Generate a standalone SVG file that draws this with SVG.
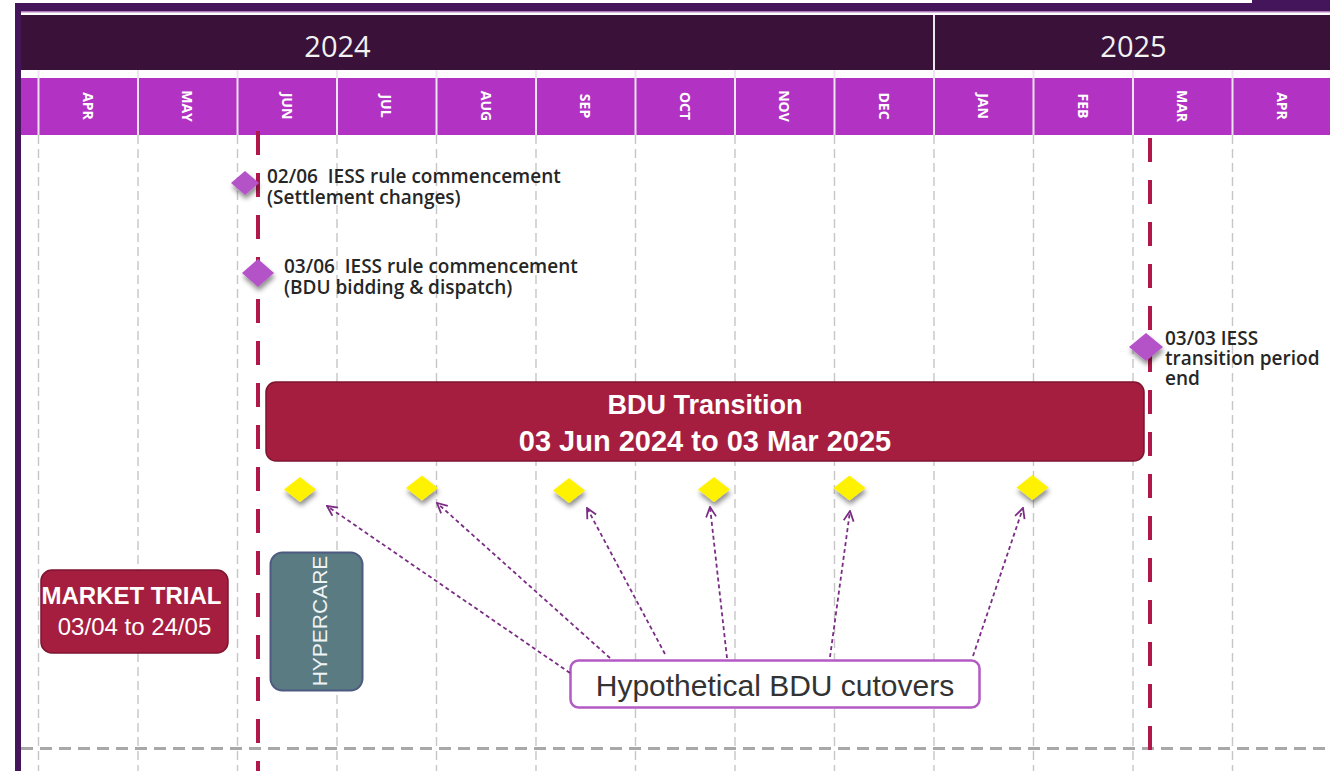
<svg xmlns="http://www.w3.org/2000/svg" width="1330" height="771" viewBox="0 0 1330 771">
  <defs>
    <style>
      .month { font-family: "Open Sans", "Liberation Sans", sans-serif; font-weight: 700; font-size: 14px; fill: #ffffff; }
      .year { font-family: "Open Sans", "Liberation Sans", sans-serif; font-size: 29px; fill: #f2f2f2; }
      .sep { stroke: #ece4ee; stroke-width: 2; }
      .grid { stroke: #c6c6c6; stroke-width: 1.4; stroke-dasharray: 9 5; fill: none; }
      .milestone-line { stroke: #b0184a; stroke-width: 4; stroke-dasharray: 24 18; fill: none; }
      .note { font-family: "Open Sans", "DejaVu Sans", sans-serif; font-weight: 600; font-size: 19px; fill: #262626; white-space: pre; }
      .event { fill: #b452c8; filter: url(#shadow); }
      .cutover { fill: #fff200; filter: url(#shadow); }
      .bar { fill: #a61e3f; stroke: #7d1530; stroke-width: 1.5; }
      .bar-text { font-family: "Liberation Sans", sans-serif; font-weight: 700; fill: #ffffff; text-anchor: middle; }
      .conn { stroke: #7b2d86; stroke-width: 1.8; stroke-dasharray: 4 3; fill: none; marker-end: url(#vhead); }
    </style>
    <filter id="shadow" x="-50%" y="-50%" width="200%" height="220%">
      <feDropShadow dx="1" dy="4" stdDeviation="2.5" flood-color="#000000" flood-opacity="0.45"/>
    </filter>
    <marker id="vhead" viewBox="0 0 12 12" refX="11" refY="6" markerWidth="12" markerHeight="12" markerUnits="userSpaceOnUse" orient="auto">
      <path d="M1,1 L11,6 L1,11" fill="none" stroke="#7b2d86" stroke-width="1.8" stroke-dasharray="none"/>
    </marker>
  </defs>

  <!-- background -->
  <rect x="0" y="0" width="1330" height="771" fill="#ffffff"/>

  <!-- outer frame -->
  <rect x="1252" y="0" width="78" height="5" fill="#45155c"/>
  <rect x="15" y="3" width="1315" height="8" fill="#45155c"/>
  <rect x="15" y="3" width="6" height="768" fill="#45155c"/>
  <rect x="21" y="11" width="1309" height="1.5" fill="#b07ab8"/>

  <!-- year band -->
  <g id="year-band">
    <rect x="21" y="15" width="1309" height="55" fill="#3a1239"/>
    <line x1="934" y1="15" x2="934" y2="70" class="sep"/>
    <text class="year" x="337.5" y="57" text-anchor="middle">2024</text>
    <text class="year" x="1133.5" y="57" text-anchor="middle">2025</text>
  </g>

  <!-- month band -->
  <g id="month-band">
    <rect x="21" y="78" width="1309" height="57" fill="#b232c4"/>
    <g class="sep">
      <line x1="38.5" y1="70" x2="38.5" y2="135"/>
      <line x1="138" y1="70" x2="138" y2="135"/>
      <line x1="237.5" y1="70" x2="237.5" y2="135"/>
      <line x1="337" y1="70" x2="337" y2="135"/>
      <line x1="436.5" y1="70" x2="436.5" y2="135"/>
      <line x1="536" y1="70" x2="536" y2="135"/>
      <line x1="635.5" y1="70" x2="635.5" y2="135"/>
      <line x1="735" y1="70" x2="735" y2="135"/>
      <line x1="834.5" y1="70" x2="834.5" y2="135"/>
      <line x1="934" y1="70" x2="934" y2="135"/>
      <line x1="1033.5" y1="70" x2="1033.5" y2="135"/>
      <line x1="1133" y1="70" x2="1133" y2="135"/>
      <line x1="1232.5" y1="70" x2="1232.5" y2="135"/>
    </g>
    <g class="month" text-anchor="middle" dominant-baseline="central">
      <text transform="translate(88.25,106) rotate(90)">APR</text>
      <text transform="translate(187.75,106) rotate(90)">MAY</text>
      <text transform="translate(287.25,106) rotate(90)">JUN</text>
      <text transform="translate(386.75,106) rotate(90)">JUL</text>
      <text transform="translate(486.25,106) rotate(90)">AUG</text>
      <text transform="translate(585.75,106) rotate(90)">SEP</text>
      <text transform="translate(685.25,106) rotate(90)">OCT</text>
      <text transform="translate(784.75,106) rotate(90)">NOV</text>
      <text transform="translate(884.25,106) rotate(90)">DEC</text>
      <text transform="translate(983.75,106) rotate(90)">JAN</text>
      <text transform="translate(1083.25,106) rotate(90)">FEB</text>
      <text transform="translate(1182.75,106) rotate(90)">MAR</text>
      <text transform="translate(1282.25,106) rotate(90)">APR</text>
    </g>
  </g>

  <!-- month grid -->
  <g id="grid" class="grid">
    <line x1="38.5" y1="135" x2="38.5" y2="771"/>
    <line x1="138" y1="135" x2="138" y2="771"/>
    <line x1="237.5" y1="135" x2="237.5" y2="771"/>
    <line x1="337" y1="135" x2="337" y2="771"/>
    <line x1="436.5" y1="135" x2="436.5" y2="771"/>
    <line x1="536" y1="135" x2="536" y2="771"/>
    <line x1="635.5" y1="135" x2="635.5" y2="771"/>
    <line x1="735" y1="135" x2="735" y2="771"/>
    <line x1="834.5" y1="135" x2="834.5" y2="771"/>
    <line x1="934" y1="135" x2="934" y2="771"/>
    <line x1="1033.5" y1="135" x2="1033.5" y2="771"/>
    <line x1="1133" y1="135" x2="1133" y2="771"/>
    <line x1="1232.5" y1="135" x2="1232.5" y2="771"/>
    <line x1="21" y1="748.5" x2="1330" y2="748.5" stroke="#a8a8a8" stroke-width="3" stroke-dasharray="12 7"/>
  </g>

  <!-- start / end markers -->
  <g id="markers">
    <line class="milestone-line" x1="258" y1="131" x2="258" y2="771"/>
    <line class="milestone-line" x1="1150" y1="138" x2="1150" y2="757"/>
  </g>

  <!-- key dates -->
  <g id="event-settlement">
    <polygon class="event" points="231,183 245,171 259,183 245,195"/>
    <text class="note" x="267" y="183" xml:space="preserve">02/06  IESS rule commencement</text>
    <text class="note" x="267" y="204">(Settlement changes)</text>
  </g>
  <g id="event-bidding">
    <polygon class="event" points="242,273 258,259 274,273 258,287"/>
    <text class="note" x="284" y="273" xml:space="preserve">03/06  IESS rule commencement</text>
    <text class="note" x="284" y="294">(BDU bidding &amp; dispatch)</text>
  </g>
  <g id="event-transition-end">
    <polygon class="event" points="1129,347 1146,333 1163,347 1146,361"/>
    <text class="note" x="1165" y="345">03/03 IESS</text>
    <text class="note" x="1165" y="365">transition period</text>
    <text class="note" x="1165" y="385">end</text>
  </g>

  <!-- transition bar -->
  <g id="bdu-transition">
    <rect class="bar" x="266" y="382" width="878" height="79" rx="10"/>
    <text class="bar-text" x="705" y="414" font-size="27">BDU Transition</text>
    <text class="bar-text" x="705" y="451" font-size="29">03 Jun 2024 to 03 Mar 2025</text>
  </g>

  <!-- cutover points -->
  <g id="cutovers">
    <polygon class="cutover" points="284,489.5 300,477 316,489.5 300,502"/>
    <polygon class="cutover" points="406,488 422,475.5 438,488 422,500.5"/>
    <polygon class="cutover" points="553,490.5 569,478 585,490.5 569,503"/>
    <polygon class="cutover" points="698,489.5 714,477 730,489.5 714,502"/>
    <polygon class="cutover" points="833.5,488 849.5,475.5 865.5,488 849.5,500.5"/>
    <polygon class="cutover" points="1016.5,487.5 1032.5,475 1048.5,487.5 1032.5,500"/>
  </g>

  <!-- market trial -->
  <g id="market-trial">
    <rect class="bar" x="41" y="570" width="187" height="83" rx="11"/>
    <text class="bar-text" x="131.5" y="604" font-size="24">MARKET TRIAL</text>
    <text x="134.5" y="635" font-size="24" fill="#ffffff" text-anchor="middle" font-family="Liberation Sans, sans-serif">03/04 to 24/05</text>
  </g>

  <!-- hypercare -->
  <g id="hypercare">
    <rect x="270.5" y="552.5" width="92" height="138" rx="12" fill="#5b7b82" stroke="#4f5a82" stroke-width="2"/>
    <text transform="translate(327,621) rotate(-90)" text-anchor="middle" font-family="Liberation Sans, sans-serif" font-size="21" fill="#eef3f4">HYPERCARE</text>
  </g>

  <!-- cutover callout -->
  <g id="cutover-label">
    <rect x="570.5" y="660.5" width="409" height="47" rx="8" fill="#ffffff" stroke="#b45ac4" stroke-width="2.5"/>
    <text x="775" y="696" text-anchor="middle" font-family="Liberation Sans, sans-serif" font-size="30" fill="#333333">Hypothetical BDU cutovers</text>
  </g>

  <!-- callout connectors -->
  <g id="connectors">
    <line class="conn" x1="570" y1="673" x2="327" y2="506"/>
    <line class="conn" x1="610" y1="658" x2="437" y2="503"/>
    <line class="conn" x1="665" y1="654" x2="587" y2="508"/>
    <line class="conn" x1="727" y1="658" x2="710" y2="507"/>
    <line class="conn" x1="830" y1="657" x2="850" y2="511"/>
    <line class="conn" x1="973" y1="656" x2="1023" y2="508"/>
  </g>
</svg>
